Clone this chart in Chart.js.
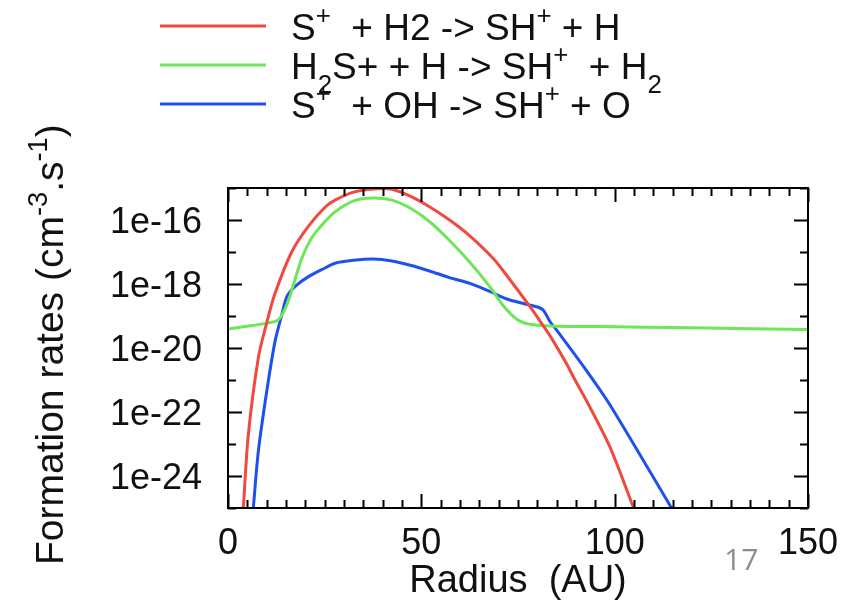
<!DOCTYPE html>
<html>
<head>
<meta charset="utf-8">
<script src="https://cdn.jsdelivr.net/npm/chart.js@4.4.0/dist/chart.umd.min.js"></script>
<style>
body { margin: 0; background: #fff; }
#chartcontainer { display: block; }
</style>
</head>
<body>
<canvas id="chartcontainer" width="859" height="603"></canvas>
<script>
// radius in AU, rates as log10 (cm-3.s-1)
var redX = [3.96, 5.25, 7.84, 10.0, 12.15, 16.47, 20.77, 25.1, 27.7, 32.5, 37.5, 42.4, 47.4, 52.3, 57.3, 62.3, 68.6, 72.2, 78.1, 81.5, 83.3, 87.6, 89.3, 93.6, 98.8, 104.9];
var redY = [-25, -22.72, -20.31, -19.22, -18.3, -17.0, -16.2, -15.6, -15.38, -15.13, -15.03, -15.04, -15.27, -15.6, -16.0, -16.47, -17.2, -17.75, -18.71, -19.3, -19.62, -20.5, -20.9, -21.85, -23.1, -25];

var greenX = [0, 4.4, 9.6, 13.0, 15.2, 16.9, 19.1, 21.6, 25.1, 27.7, 32.5, 37.5, 42.4, 47.4, 52.3, 57.3, 62.6, 67.8, 71.2, 74.7, 78.1, 83.3, 96.2, 120, 150];
var greenY = [-19.41, -19.33, -19.23, -19.12, -18.66, -18.03, -17.2, -16.57, -16.05, -15.74, -15.4, -15.31, -15.38, -15.65, -16.07, -16.64, -17.33, -18.1, -18.68, -19.1, -19.26, -19.31, -19.33, -19.37, -19.42];

var blueX = [6.55, 7.84, 10.0, 12.15, 13.9, 15.2, 17.3, 20.8, 25.1, 27.7, 32.5, 37.5, 42.4, 47.4, 52.3, 57.3, 62.6, 67.8, 72.9, 79.8, 81.5, 83.3, 85.0, 92.8, 98.8, 114.7];
var blueY = [-25, -23.24, -21.37, -19.8, -18.97, -18.4, -18.08, -17.77, -17.5, -17.35, -17.26, -17.22, -17.28, -17.42, -17.6, -17.8, -17.98, -18.24, -18.5, -18.71, -18.81, -19.18, -19.44, -20.72, -21.78, -25];

var xTicks = [0, 50, 100, 150];
var yTicks = [-16, -18, -20, -22, -24];
var yTickLabels = ['1e-16', '1e-18', '1e-20', '1e-22', '1e-24'];

// [text, shift]  shift 1 = superscript, -1 = subscript
var legendLabels = [
    [['S', 0], ['+', 1], ['  + H2 -> SH', 0], ['+', 1], [' + H', 0]],
    [['H', 0], ['2', -1], ['S+ + H -> SH', 0], ['+', 1], ['  + H', 0], ['2', -1]],
    [['S', 0], ['+', 1], ['  + OH -> SH', 0], ['+', 1], [' + O', 0]]
];
var yTitle = [['Formation rates (cm', 0], ['-3', 1], ['.s', 0], ['-1', 1], [')', 0]];
var xTitle = 'Radius  (AU)';
var pageNumber = '17';

var colors = ['#f04a40', '#6ee65a', '#1e50f0'];
var fontName = '"Liberation Sans", Arial, sans-serif';

function toPoints(xs, ys) {
    var pts = [];
    for (var i = 0; i < xs.length; i++) pts.push({x: xs[i], y: ys[i]});
    return pts;
}

function drawRich(ctx, parts, x, y, size) {
    for (var i = 0; i < parts.length; i++) {
        var shift = parts[i][1];
        var s = shift ? size * 0.7 : size;
        var dy = shift == 1 ? -size * 0.42 : (shift == -1 ? size * 0.38 : 0);
        ctx.font = s + 'px ' + fontName;
        ctx.fillText(parts[i][0], x, y + dy);
        x += ctx.measureText(parts[i][0]).width;
    }
    return x;
}

var framePlugin = {
    id: 'frame',
    afterDatasetsDraw: function(chart) {
        var ctx = chart.ctx;
        var a = chart.chartArea;
        var sx = chart.scales.x;
        var sy = chart.scales.y;
        ctx.save();
        ctx.strokeStyle = '#000';
        ctx.lineWidth = 2;
        ctx.beginPath();
        for (var v = 0; v <= 150; v += 5) {
            var px = Math.round(sx.getPixelForValue(v)) + 0.5;
            var len = v % 50 == 0 ? 14 : 8;
            ctx.moveTo(px, a.bottom); ctx.lineTo(px, a.bottom - len);
            ctx.moveTo(px, a.top); ctx.lineTo(px, a.top + len);
        }
        for (var d = -25; d <= -15; d++) {
            var py = Math.round(sy.getPixelForValue(d)) + 0.5;
            var l2 = d % 2 == 0 ? 14 : 8;
            ctx.moveTo(a.left, py); ctx.lineTo(a.left + l2, py);
            ctx.moveTo(a.right, py); ctx.lineTo(a.right - l2, py);
        }
        ctx.stroke();
        ctx.strokeRect(a.left, a.top, a.right - a.left, a.bottom - a.top);

        // tick labels
        ctx.fillStyle = '#111';
        ctx.font = '36px ' + fontName;
        ctx.textBaseline = 'alphabetic';
        ctx.textAlign = 'center';
        for (var i = 0; i < xTicks.length; i++) {
            ctx.fillText(String(xTicks[i]), sx.getPixelForValue(xTicks[i]), a.bottom + 46);
        }
        ctx.textAlign = 'right';
        for (var j = 0; j < yTicks.length; j++) {
            ctx.fillText(yTickLabels[j], a.left - 26, sy.getPixelForValue(yTicks[j]) + 13);
        }

        // axis titles
        ctx.textAlign = 'center';
        ctx.font = '38px ' + fontName;
        ctx.fillText(xTitle, (a.left + a.right) / 2, a.bottom + 84);

        ctx.textAlign = 'left';
        ctx.save();
        ctx.translate(63, 565);
        ctx.rotate(-Math.PI / 2);
        drawRich(ctx, yTitle, 0, 0, 39);
        ctx.restore();

        // legend
        for (var k = 0; k < legendLabels.length; k++) {
            var ly = 26 + k * 39;
            ctx.strokeStyle = colors[k];
            ctx.lineWidth = 3;
            ctx.beginPath();
            ctx.moveTo(160, ly);
            ctx.lineTo(266, ly);
            ctx.stroke();
            ctx.fillStyle = '#111';
            drawRich(ctx, legendLabels[k], 291, ly + 14, 37);
        }

        ctx.fillStyle = '#8c8c8c';
        ctx.font = '30px "Open Sans", sans-serif';
        ctx.fillText(pageNumber, 724, 570);
        ctx.restore();
    }
};

var datasets = [];
var series = [[redX, redY], [greenX, greenY], [blueX, blueY]];
for (var s = 0; s < series.length; s++) {
    datasets.push({
        data: toPoints(series[s][0], series[s][1]),
        borderColor: colors[s],
        borderWidth: 3,
        pointRadius: 0,
        fill: false,
        tension: 0.3
    });
}

var ctx = document.getElementById('chartcontainer').getContext('2d');
var chart = new Chart(ctx, {
    type: 'line',
    data: { datasets: datasets },
    options: {
        responsive: false,
        animation: false,
        layout: { padding: { left: 228, top: 188, right: 51, bottom: 95 } },
        scales: {
            x: { type: 'linear', min: 0, max: 150, display: false },
            y: { type: 'linear', min: -25, max: -15, display: false }
        },
        plugins: {
            legend: { display: false },
            tooltip: { enabled: false }
        }
    },
    plugins: [framePlugin]
});
</script>
</body>
</html>
